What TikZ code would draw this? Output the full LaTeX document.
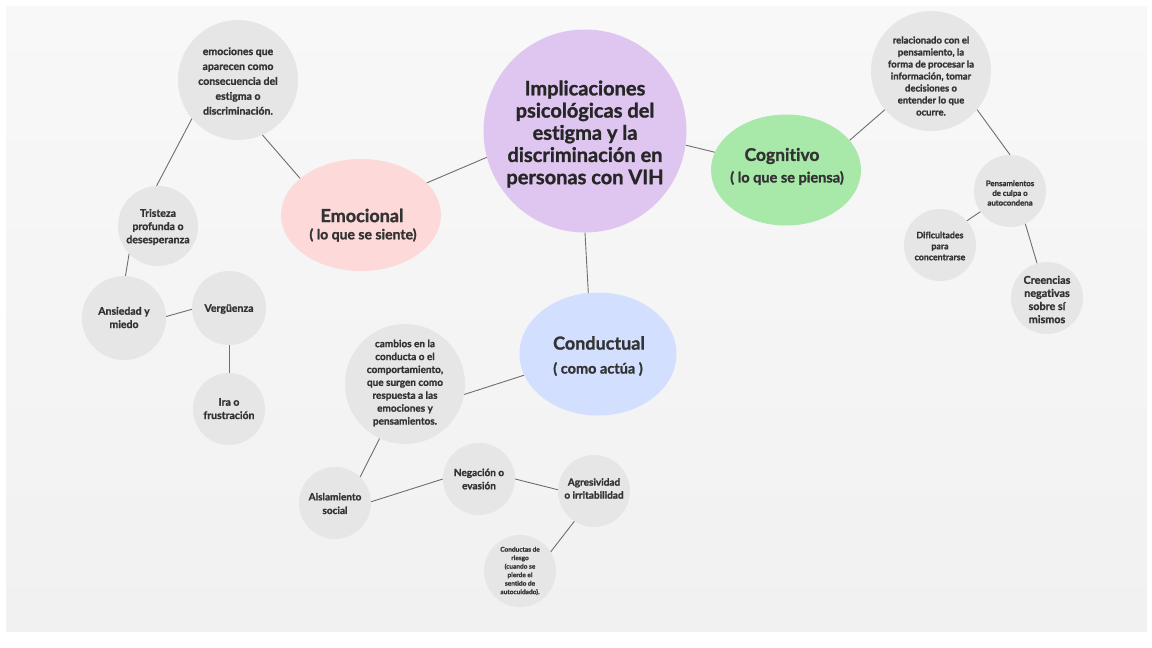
\documentclass[tikz,border=0pt]{standalone}
\usepackage{fontspec}
\setmainfont{Lato}[Ligatures={NoCommon}, BoldFeatures={FakeBold=1.3}]
\usetikzlibrary{shapes.geometric}
\definecolor{txt}{HTML}{333333}
\definecolor{graycirc}{HTML}{E6E6E6}
\definecolor{mainc}{HTML}{DFC6F1}
\definecolor{emoc}{HTML}{FDD9D9}
\definecolor{cogc}{HTML}{A8E9AA}
\definecolor{conc}{HTML}{D3DFFE}
\definecolor{linec}{HTML}{6E6E6E}
\definecolor{panelt}{HTML}{F8F8F8}
\definecolor{panelb}{HTML}{F1F1F1}
\tikzset{
  gcirc/.style={circle, fill=graycirc, inner sep=0pt},
  bigell/.style={ellipse, inner sep=0pt},
  lbl/.style={align=center, text=txt, inner sep=0pt},
  conn/.style={draw=linec, line width=0.9pt},
}
\newcommand{\fs}[2]{\fontsize{#1}{#2}\selectfont\bfseries}
\begin{document}
\begin{tikzpicture}[x=1pt,y=-1pt]
\useasboundingbox (0,0) rectangle (1152,648);
\fill[white] (0,0) rectangle (1152,648);
\shade[top color=panelt, bottom color=panelb] (6,6) rectangle (1147,631);

% main
\node[circle, fill=mainc, minimum size=203pt, inner sep=0pt] (main) at (585,131) {};
\node[lbl, font=\fs{20}{22.2}, text=black!85] (maint) at (585,134)
  {Implicaciones\\psicológicas del\\estigma y la\\discriminación en\\personas con VIH};

% Emocional
\node[bigell, fill=emoc, minimum width=160pt, minimum height=112pt] (emo) at (361,215) {};
\node[lbl, font=\fs{18}{20}] (emot) at (362,215.5) {Emocional};
\node[lbl, font=\fs{14}{16}] (emos) at (363,235) {( lo que se siente)};

% Cognitivo
\node[bigell, fill=cogc, minimum width=150pt, minimum height=111pt] (cog) at (786,170) {};
\node[lbl, font=\fs{17.5}{20}] (cogt) at (782,156) {Cognitivo};
\node[lbl, font=\fs{14.5}{16}] (cogs) at (787,178) {( lo que se piensa)};

% Conductual
\node[bigell, fill=conc, minimum width=157pt, minimum height=123pt] (con) at (598,354) {};
\node[lbl, font=\fs{18}{20}] (cont) at (599,343) {Conductual};
\node[lbl, font=\fs{14.5}{16}] (cons) at (598,369) {( como actúa )};

% gray circles (Emocional branch)
\node[gcirc, minimum size=120pt] (emod) at (238,80) {};
\node[lbl, font=\fs{10.5}{14.9}] (emodt) at (238,81)
  {emociones que\\aparecen como\\consecuencia del\\estigma o\\discriminación.};
\node[gcirc, minimum size=80pt] (tri) at (158,226) {};
\node[lbl, font=\fs{10.5}{13.2}] (trit) at (158,227) {Tristeza\\profunda o\\desesperanza};
\node[gcirc, minimum size=84pt] (ans) at (124,318) {};
\node[lbl, font=\fs{10.5}{13.3}] (anst) at (124,317.5) {Ansiedad y\\miedo};
\node[gcirc, minimum size=74pt] (ver) at (229,308) {};
\node[lbl, font=\fs{10.5}{13.3}] (vert) at (229,309) {Vergüenza};
\node[gcirc, minimum size=72pt] (ira) at (229,409) {};
\node[lbl, font=\fs{10.5}{13.3}] (irat) at (229,408.6) {Ira o\\frustración};

% Cognitivo branch
\node[gcirc, minimum size=120pt] (cogd) at (931,71) {};
\node[lbl, font=\fs{9.5}{12}] (cogdt) at (931,76)
  {relacionado con el\\pensamiento, la\\forma de procesar la\\información, tomar\\decisiones o\\entender lo que\\ocurre.};
\node[gcirc, minimum size=72pt] (pen) at (1010,191) {};
\node[lbl, font=\fs{7.8}{9.7}] (pent) at (1010,193) {Pensamientos\\de culpa o\\autocondena};
\node[gcirc, minimum size=72pt] (dif) at (940,245) {};
\node[lbl, font=\fs{8.8}{11}] (dift) at (940,246) {Dificultades\\para\\concentrarse};
\node[gcirc, minimum size=72pt] (cre) at (1047,298) {};
\node[lbl, font=\fs{10.8}{13.1}] (cret) at (1047,299.5) {Creencias\\negativas\\sobre sí\\mismos};

% Conductual branch
\node[gcirc, minimum size=120pt] (cond) at (405,384) {};
\node[lbl, font=\fs{10}{12.9}] (condt) at (405,383)
  {cambios en la\\conducta o el\\comportamiento,\\que surgen como\\respuesta a las\\emociones y\\pensamientos.};
\node[gcirc, minimum size=72pt] (ais) at (335,503) {};
\node[lbl, font=\fs{10}{13.6}] (aist) at (335,503.5) {Aislamiento\\social};
\node[gcirc, minimum size=72pt] (neg) at (479,479) {};
\node[lbl, font=\fs{10}{13.2}] (negt) at (479,479) {Negación o\\evasión};
\node[gcirc, minimum size=72pt] (agr) at (594,491) {};
\node[lbl, font=\fs{10}{13}] (agrt) at (594,488.5) {Agresividad\\o irritabilidad};
\node[gcirc, minimum size=72pt] (rie) at (520,571) {};
\node[lbl, font=\fs{6.5}{8.5}] (riet) at (520,571)
  {Conductas de\\riesgo\\(cuando se\\pierde el\\sentido de\\autocuidado).};

% connectors
\draw[conn] (main.195) -- (emo.26);
\draw[conn] (emo.149) -- (emod.294);
\draw[conn] (emod.220) -- (tri.92);
\draw[conn] (tri.224) -- (ans.88);
\draw[conn] (ans.2) -- (ver.182);
\draw[conn] (ver.270) -- (ira.90);
\draw[conn] (main.352) -- (cog.166);
\draw[conn] (cog.25) -- (cogd.220);
\draw[conn] (cogd.320) -- (pen.90);
\draw[conn] (pen.215) -- (dif.42);
\draw[conn] (pen.295) -- (cre.106);
\draw[conn] (main.270) -- (con.99);
\draw[conn] (con.196) -- (cond.350);
\draw[conn] (cond.245) -- (ais.46);
\draw[conn] (ais.2) -- (neg.180);
\draw[conn] (neg.0) -- (agr.178);
\draw[conn] (agr.237) -- (rie.32);
\end{tikzpicture}
\end{document}
